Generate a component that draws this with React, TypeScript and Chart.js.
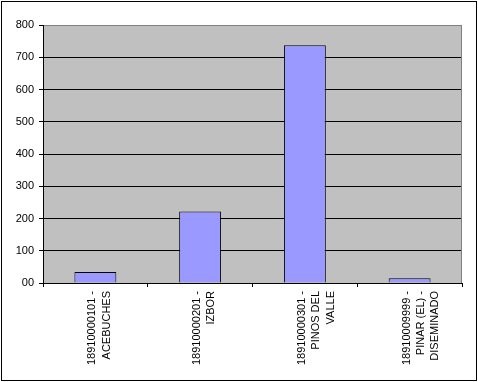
import React, { useEffect, useRef } from 'react';
import { Chart, registerables } from 'chart.js';

Chart.register(...registerables);

const categories: string[][] = [
  ['18910000101 -', 'ACEBUCHES'],
  ['18910000201 -', 'IZBOR'],
  ['18910000301 -', 'PINOS DEL', 'VALLE'],
  ['18910009999 -', 'PINAR (EL) -', 'DISEMINADO'],
];
const values: number[] = [34, 222, 737, 15];
const yMin = 0;
const yMax = 800;
const yStep = 100;
const zeroLabel = '00';

const FONT = 'Arial, "Liberation Sans", sans-serif';

export default function App() {
  const ref = useRef<HTMLCanvasElement | null>(null);

  useEffect(() => {
    document.body.style.margin = '0';
    const canvas = ref.current;
    if (!canvas) return;

    const framePlugin = {
      id: 'frame',
      beforeDraw(chart: any) {
        const { ctx, chartArea } = chart;
        ctx.save();
        ctx.fillStyle = '#ffffff';
        ctx.fillRect(0, 0, chart.width, chart.height);
        ctx.strokeStyle = '#000000';
        ctx.lineWidth = 1;
        ctx.strokeRect(1.5, 1.5, 475, 379);
        ctx.fillStyle = '#C0C0C0';
        ctx.fillRect(chartArea.left, chartArea.top, chartArea.right - chartArea.left, chartArea.bottom - chartArea.top);
        ctx.restore();
      },
      afterDraw(chart: any) {
        const { ctx, chartArea } = chart;
        ctx.save();
        ctx.strokeStyle = '#808080';
        ctx.lineWidth = 1;
        ctx.beginPath();
        ctx.moveTo(Math.round(chartArea.right) - 0.5, chartArea.top);
        ctx.lineTo(Math.round(chartArea.right) - 0.5, chartArea.bottom);
        ctx.stroke();
        ctx.restore();
      },
    };

    const chart = new Chart(canvas, {
      type: 'bar',
      data: {
        labels: categories as any,
        datasets: [
          {
            data: values,
            backgroundColor: '#9999FF',
            borderColor: '#000000',
            borderWidth: 1,
            barPercentage: 0.4,
            categoryPercentage: 1,
          },
        ],
      },
      options: {
        responsive: false,
        animation: false,
        devicePixelRatio: 1,
        layout: { padding: { top: 25, right: 16, left: 0, bottom: 0 } },
        plugins: { legend: { display: false }, tooltip: { enabled: false } },
        scales: {
          x: {
            afterFit(scale: any) {
              scale.height = 99;
            },
            grid: {
              display: true,
              drawOnChartArea: false,
              drawTicks: true,
              tickLength: 4,
              tickColor: '#000000',
              offset: true,
            },
            border: { color: '#000000', width: 1 },
            ticks: {
              color: '#000000',
              font: { family: FONT, size: 11, lineHeight: 1.3 },
              minRotation: 90,
              maxRotation: 90,
              autoSkip: false,
              padding: 4,
              labelOffset: -3,
            },
          },
          y: {
            min: yMin,
            max: yMax,
            afterFit(scale: any) {
              scale.width = 43;
            },
            grid: {
              color: (c: any) => (c.tick && c.tick.value === yMax ? '#808080' : '#000000'),
              tickColor: '#000000',
              tickLength: 4,
              lineWidth: 1,
            },
            border: { color: '#000000', width: 1 },
            ticks: {
              stepSize: yStep,
              color: '#000000',
              font: { family: FONT, size: 11 },
              padding: 5,
              callback: (v: any) => (v === 0 ? zeroLabel : String(v)),
            },
          },
        },
      },
      plugins: [framePlugin],
    });

    return () => chart.destroy();
  }, []);

  return <canvas ref={ref} width={478} height={382} style={{ display: 'block' }} />;
}
